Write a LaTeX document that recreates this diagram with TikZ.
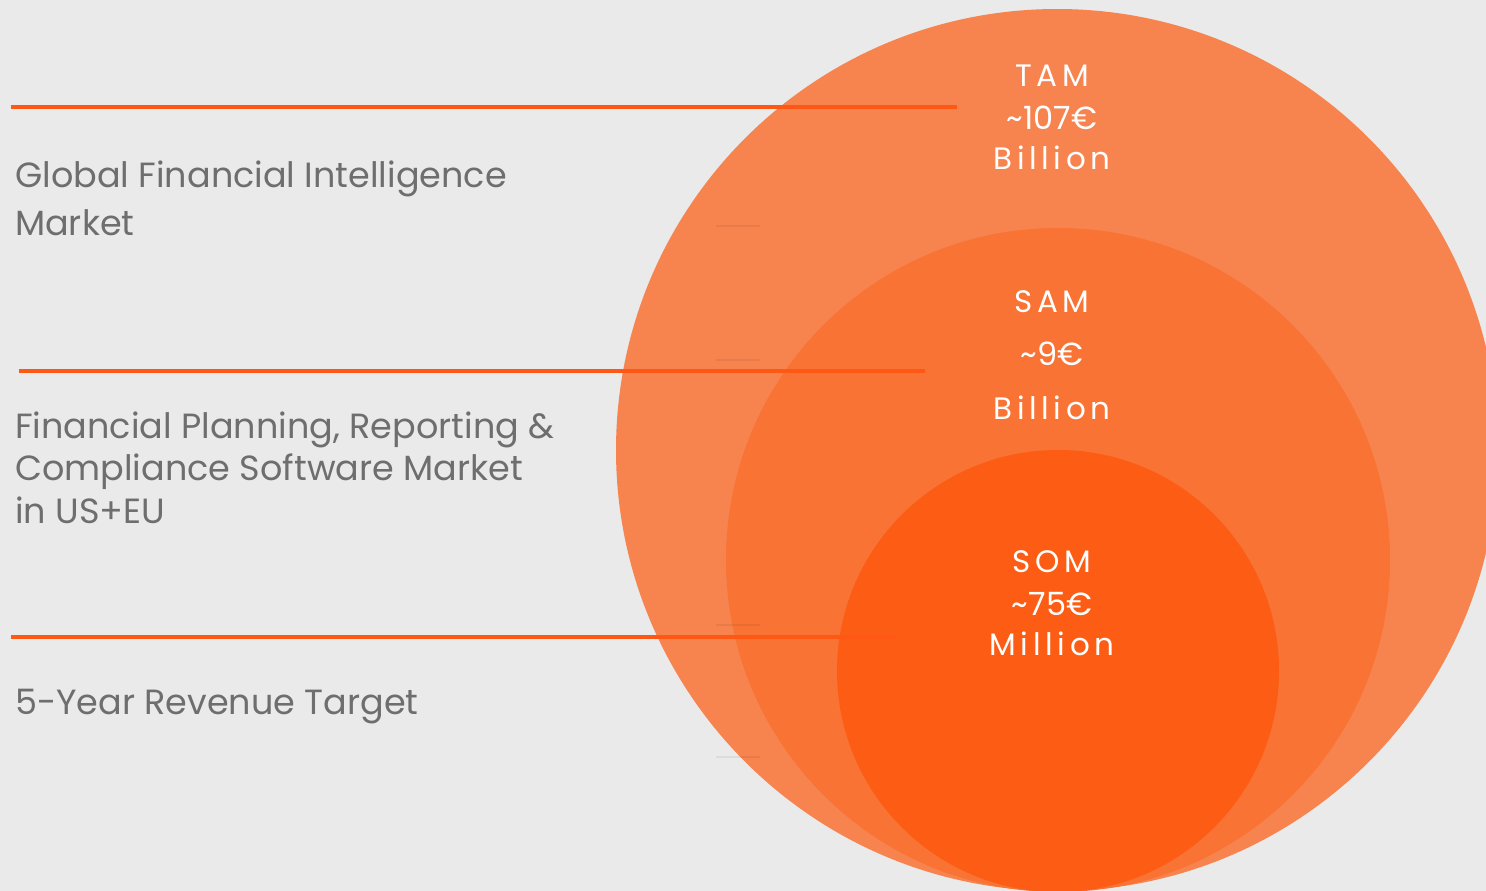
\documentclass[tikz,border=0pt]{standalone}
\usepackage{fontspec}
\setmainfont{Poppins}
\definecolor{bg}{RGB}{234,234,234}
\definecolor{tamc}{RGB}{247,131,79}
\definecolor{samc}{RGB}{248,115,52}
\definecolor{somc}{RGB}{253,92,20}
\definecolor{linec}{RGB}{255,88,20}
\definecolor{txtc}{RGB}{110,110,110}
\begin{document}
\begin{tikzpicture}[x=1pt,y=-1pt,
  lead/.style={draw=linec,line width=3.2pt},
  tick/.style={draw=black,opacity=0.06,line width=2.5pt},
  desc/.style={anchor=base west,inner sep=0pt,text=txtc,font=\fontsize{35}{48}\selectfont,align=left},
  big/.style={anchor=base,inner sep=0pt,text=white,font=\fontsize{31}{31}\selectfont\addfontfeatures{LetterSpace=15}},
  amt/.style={anchor=base,inner sep=0pt,text=white,font=\fontsize{32}{32}\selectfont}]
\useasboundingbox (0,0) rectangle (1486,891);
\clip (0,0) rectangle (1486,891);
\fill[bg] (0,0) rectangle (1486,891);
% circles
\fill[tamc] (1057,450) circle[radius=441];
\fill[samc] (1058,560) circle[radius=332];
\fill[somc] (1058,671) circle[radius=221];
% faint ticks
\coordinate (t1a) at (716,226); \coordinate (t1b) at (760,226);
\coordinate (t2a) at (716,360); \coordinate (t2b) at (760,360);
\coordinate (t3a) at (716,625); \coordinate (t3b) at (760,625);
\coordinate (t4a) at (716,757); \coordinate (t4b) at (760,757);
\draw[tick] (t1a) -- (t1b);
\draw[tick] (t2a) -- (t2b);
\draw[tick] (t3a) -- (t3b);
\draw[tick] (t4a) -- (t4b);
% leader lines
\coordinate (l1a) at (11,107); \coordinate (l1b) at (957,107);
\coordinate (l2a) at (19,371); \coordinate (l2b) at (925,371);
\coordinate (l3a) at (11,637); \coordinate (l3b) at (895,637);
\draw[lead] (l1a) -- (l1b);
\draw[lead] (l2a) -- (l2b);
\draw[lead] (l3a) -- (l3b);
% descriptions (base anchor = last line's baseline)
\node[desc] (gfi) at (15,235) {Global Financial Intelligence\\Market};
\node[desc,font=\fontsize{35}{42.5}\selectfont] (fpr) at (15,523) {Financial Planning, Reporting \&\\Compliance Software Market\\in US+EU};
\node[desc] (rev) at (15,714) {5-Year Revenue Target};
% circle labels
\node[big] (tam) at (1052,86) {TAM};
\node[amt] (tamv) at (1052,129) {\char"007E 107€};
\node[big] (tamu) at (1052,169) {Billion};
\node[big] (sam) at (1052,312) {SAM};
\node[amt] (samv) at (1052,365) {\char"007E 9€};
\node[big] (samu) at (1052,419) {Billion};
\node[big] (som) at (1052,572) {SOM};
\node[amt] (somv) at (1052,615) {\char"007E 75€};
\node[big] (somu) at (1052,655) {Million};
\end{tikzpicture}
\end{document}
